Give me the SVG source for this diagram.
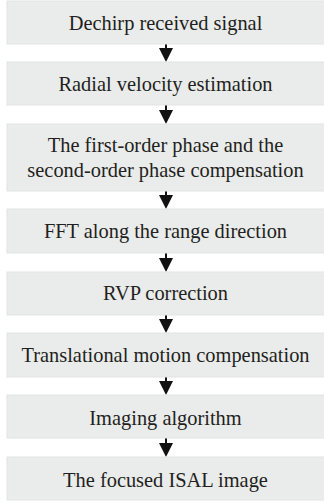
<svg xmlns="http://www.w3.org/2000/svg" width="324" height="503" viewBox="0 0 324 503">
<defs>
<style>
.box{fill:#eaebeb;stroke:#e2e3e3;stroke-width:1}
.shaft{stroke:#111;stroke-width:2}
.head{fill:#111}
</style>
</defs>
<rect width="324" height="503" fill="#ffffff"/>
<g id="connectors">
<line class="shaft" x1="166" y1="44" x2="166" y2="49"/><polygon class="head" points="159,48 173,48 166,62"/>
<line class="shaft" x1="166" y1="105" x2="166" y2="111"/><polygon class="head" points="159,110 173,110 166,124"/>
<line class="shaft" x1="166" y1="191" x2="166" y2="196"/><polygon class="head" points="159,195 173,195 166,209"/>
<line class="shaft" x1="166" y1="253" x2="166" y2="259"/><polygon class="head" points="159,258 173,258 166,272"/>
<line class="shaft" x1="166" y1="315" x2="166" y2="320"/><polygon class="head" points="159,319 173,319 166,333"/>
<line class="shaft" x1="166" y1="377" x2="166" y2="382"/><polygon class="head" points="159,381 173,381 166,395"/>
<line class="shaft" x1="166" y1="438" x2="166" y2="444"/><polygon class="head" points="159,443 173,443 166,457"/>
</g>
<g font-family="Liberation Serif, DejaVu Serif, serif" font-size="20.4" fill="#231f20" text-anchor="middle">
<g id="n1"><rect class="box" x="7" y="1" width="318" height="43"/><text x="165.5" y="30">Dechirp received signal</text></g>
<g id="n2"><rect class="box" x="7" y="62" width="318" height="43"/><text x="165.5" y="90.5">Radial velocity estimation</text></g>
<g id="n3"><rect class="box" x="7" y="124" width="318" height="67"/><text x="165.5" y="152.3">The first-order phase and the</text><text x="165.5" y="176.7">second-order phase compensation</text></g>
<g id="n4"><rect class="box" x="7" y="209" width="318" height="44"/><text x="165.5" y="238.3">FFT along the range direction</text></g>
<g id="n5"><rect class="box" x="7" y="272" width="318" height="43"/><text x="165.5" y="300">RVP correction</text></g>
<g id="n6"><rect class="box" x="7" y="333" width="318" height="44"/><text x="165.5" y="361.7">Translational motion compensation</text></g>
<g id="n7"><rect class="box" x="7" y="395" width="318" height="43"/><text x="165.5" y="425">Imaging algorithm</text></g>
<g id="n8"><rect class="box" x="7" y="457" width="318" height="43"/><text x="165.5" y="486.7">The focused ISAL image</text></g>
</g>
</svg>
